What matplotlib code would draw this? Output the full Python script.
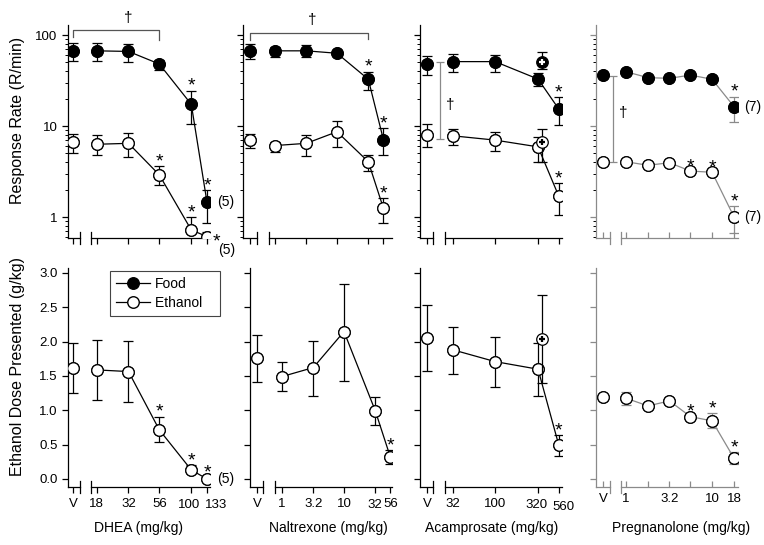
import numpy as np
import matplotlib as mpl

mpl.use('Agg')

import matplotlib.pyplot as plt
from matplotlib.ticker import LogLocator, NullLocator, NullFormatter, FixedLocator

plt.rcParams['font.family'] = ['Liberation Sans', 'DejaVu Sans']

# ---------------- данные ----------------
# первый элемент каждого списка - носитель (V)

# DHEA
dhea_labels = ['V', '18', '32', '56', '100', '133']
dhea_doses = [18, 32, 56, 100, 133]
dhea_food = [67, 67, 66, 48, 17.3, 1.45]
dhea_food_hi = [82, 82, 80, 53, 24.4, 1.98]
dhea_food_lo = [52, 52, 51, 41, 10.5, 0.85]
dhea_eth = [6.6, 6.3, 6.45, 2.9, 0.72, 0.61]
dhea_eth_hi = [8.2, 8.0, 8.3, 3.6, 1.0, 0.68]
dhea_eth_lo = [5.1, 4.8, 4.6, 2.25, 0.68, 0.58]
dhea_gkg = [1.61, 1.587, 1.563, 0.714, 0.131, 0.0]
dhea_gkg_hi = [1.976, 2.02, 2.01, 0.907, 0.2, 0.02]
dhea_gkg_lo = [1.257, 1.15, 1.117, 0.543, 0.09, 0.0]

# Naltrexone
nal_labels = ['V', '1', '3.2', '10', '32', '56']
nal_doses = [1, 3.2, 10, 32, 56]
nal_food = [67, 67, 67, 63, 32.6, 7.1]
nal_food_hi = [80, 74, 78, 67, 39.5, 9.4]
nal_food_lo = [55, 57, 57, 59, 24.9, 4.8]
nal_eth = [7.0, 6.1, 6.45, 8.65, 4.05, 1.25]
nal_eth_hi = [8.2, 6.7, 8.0, 11.4, 4.8, 1.6]
nal_eth_lo = [5.7, 5.2, 4.7, 5.9, 3.2, 0.85]
nal_gkg = [1.757, 1.49, 1.621, 2.145, 0.99, 0.316]
nal_gkg_hi = [2.097, 1.708, 2.014, 2.84, 1.199, 0.422]
nal_gkg_lo = [1.408, 1.286, 1.209, 1.432, 0.786, 0.218]

# Acamprosate
aca_labels = ['V', '32', '100', '320', '560']
aca_doses = [32, 100, 320, 560]
aca_food = [48, 51, 51, 32.8, 15.4]
aca_food_hi = [59, 62, 61, 38.5, 20.7]
aca_food_lo = [36, 39.5, 39.5, 27.5, 10.3]
aca_eth = [8.0, 7.8, 7.0, 5.9, 1.7]
aca_eth_hi = [10.4, 9.2, 8.65, 7.6, 2.34]
aca_eth_lo = [5.9, 6.2, 5.35, 4.05, 1.05]
aca_gkg = [2.058, 1.879, 1.708, 1.597, 0.495]
aca_gkg_hi = [2.534, 2.218, 2.072, 1.976, 0.641]
aca_gkg_lo = [1.577, 1.529, 1.335, 1.209, 0.335]
# отдельная точка "+" при 320 мг/кг
aca_plus_dose = 320
aca_plus_food = [51, 64.5, 42]      # значение, верх, низ
aca_plus_eth = [6.6, 9.2, 4.05]
aca_plus_gkg = [2.039, 2.68, 1.393]

# Pregnanolone
preg_labels = ['V', '1', '', '3.2', '', '10', '18']
preg_doses = [1, 1.8, 3.2, 5.6, 10, 18]
preg_food = [36.3, 39.5, 34, 33.4, 36.3, 32.6, 16.3]
preg_food_hi = [36.3, 39.5, 34, 33.4, 36.3, 32.6, 21]
preg_food_lo = [36.3, 39.5, 34, 33.4, 36.3, 32.6, 11.1]
preg_eth = [4.05, 4.05, 3.7, 3.95, 3.2, 3.1, 1.0]
preg_eth_hi = [4.05, 4.05, 3.7, 3.95, 3.2, 3.1, 1.32]
preg_eth_lo = [4.05, 4.05, 3.7, 3.95, 3.2, 3.1, 0.66]
preg_gkg = [1.19, 1.175, 1.063, 1.136, 0.907, 0.845, 0.301]
preg_gkg_hi = [1.19, 1.27, 1.11, 1.136, 0.907, 0.957, 0.39]
preg_gkg_lo = [1.19, 1.08, 1.02, 1.136, 0.907, 0.738, 0.22]

# значимые отличия (*) - индексы в списках
dhea_star_food, dhea_star_eth, dhea_star_gkg = [4, 5], [3, 4, 5], [3, 4, 5]
nal_star_food, nal_star_eth, nal_star_gkg = [4, 5], [5], [5]
aca_star_food, aca_star_eth, aca_star_gkg = [4], [4], [4]
preg_star_food, preg_star_eth, preg_star_gkg = [6], [4, 5, 6], [4, 5, 6]

# ---------------- оформление ----------------
W, H = 764, 545
fig = plt.figure(figsize=(W / 100, H / 100), dpi=100)

GRAY = '#8a8a8a'
MS = 8.3
TICK_FS = 9.5


def box(x0, x1, y0, y1):
    return [x0 / W, 1 - y1 / H, (x1 - x0) / W, (y1 - y0) / H]


def setup_x(ax, xlim, v_pos, doses, labels, breaks_px, width_px, height_px,
            color='k', show_labels=False, tick_dir='out', shifts=None):
    ax.set_xscale('log')
    ax.set_xlim(*xlim)
    xs = [v_pos] + list(doses)
    ax.xaxis.set_major_locator(FixedLocator(xs))
    ax.xaxis.set_minor_locator(NullLocator())
    ax.xaxis.set_minor_formatter(NullFormatter())
    shifts = shifts or {}
    shown = []
    for i, lab in enumerate(labels):
        if show_labels and i not in shifts:
            shown.append(lab)
        else:
            shown.append('')
    ax.set_xticklabels(shown)
    # подписи, сдвинутые относительно штрихов (как в оригинале)
    if show_labels:
        dec_per_px = np.log10(xlim[1] / xlim[0]) / width_px
        for i, (dx, dy) in shifts.items():
            lx = xs[i] * 10 ** (dx * dec_per_px)
            ly = -(11.5 + dy) / height_px
            ax.text(lx, ly, labels[i], transform=ax.get_xaxis_transform(),
                    ha='center', va='top', fontsize=TICK_FS, clip_on=False)
    ax.tick_params(axis='x', direction=tick_dir, length=4, width=0.9,
                   color=color, labelsize=TICK_FS, labelcolor='k', pad=4)
    ax.spines['bottom'].set_visible(False)
    b1 = breaks_px[0] / width_px
    b2 = breaks_px[1] / width_px
    d = 6 / height_px
    kw = dict(transform=ax.transAxes, color=color, lw=0.9, clip_on=False)
    ax.plot([0, b1], [0, 0], **kw)
    ax.plot([b2, 1], [0, 0], **kw)
    ax.plot([b1, b1], [-d, d], **kw)
    ax.plot([b2, b2], [-d, d], **kw)


def style_axes(ax, color='k'):
    ax.spines['top'].set_visible(False)
    ax.spines['right'].set_visible(False)
    ax.spines['left'].set_color(color)
    ax.spines['left'].set_linewidth(0.9)
    ax.tick_params(axis='y', direction='out', color=color, labelsize=TICK_FS)
    ax.patch.set_alpha(0)


def series(ax, v_pos, doses, vals, hi, lo, filled, line_color='k'):
    xs = [v_pos] + list(doses)
    yerr = np.array([np.array(vals) - np.array(lo), np.array(hi) - np.array(vals)])
    face = 'k' if filled else 'white'
    kw = dict(marker='o', ms=MS, mfc=face, mec='k', mew=0.9,
              ecolor=line_color, elinewidth=0.9, capsize=3.8, capthick=0.9)
    ax.errorbar(xs[:1], vals[:1], yerr=yerr[:, :1], ls='none', zorder=3, **kw)
    ax.errorbar(xs[1:], vals[1:], yerr=yerr[:, 1:], ls='-', color=line_color,
                lw=0.9, zorder=3, **kw)
    # маркер заново поверх линии
    ax.plot(xs, vals, ls='none', marker='o', ms=MS, mfc=face, mec='k',
            mew=0.9, zorder=4)


def star(ax, x, y, dx=0, dy=-3):
    ax.annotate('*', xy=(x, y), xytext=(dx, dy), textcoords='offset points',
                ha='center', va='bottom', fontsize=14, annotation_clip=False,
                zorder=6)


def plus_point(ax, x, vals, filled):
    v, h, l = vals
    face = 'k' if filled else 'white'
    ax.errorbar([x], [v], yerr=[[v - l], [h - v]], ls='none', marker='o',
                ms=MS, mfc=face, mec='k', mew=0.9, ecolor='k', elinewidth=0.9,
                capsize=3.8, capthick=0.9, zorder=5)
    ax.plot([x], [v], ls='none', marker='+', ms=5, mew=1.6,
            color='white' if filled else 'k', zorder=6)


# пиксельная раскладка панелей
TOP_Y = (25, 238)
BOT_Y = (268, 487)
top_x = [(68, 210), (243, 392), (420, 562), (596, 738)]
bot_x = [(68, 210), (250, 392), (420, 562), (596, 738)]

RATE_LIM = (0.588, 128.8)
GKG_LIM = (-0.117, 3.07)

panels = [
    dict(labels=dhea_labels, doses=dhea_doses, v=11.7,
         xlim_top=(10.68, 140.4), xlim_bot=(10.68, 140.4),
         br_top=(12, 23), br_bot=(12, 23), shifts={4: (-2, 0), 5: (9, 0)},
         food=(dhea_food, dhea_food_hi, dhea_food_lo, dhea_star_food),
         eth=(dhea_eth, dhea_eth_hi, dhea_eth_lo, dhea_star_eth),
         gkg=(dhea_gkg, dhea_gkg_hi, dhea_gkg_lo, dhea_star_gkg),
         xlabel='DHEA (mg/kg)', xl_pos=139, color='k'),
    dict(labels=nal_labels, doses=nal_doses, v=0.395,
         xlim_top=(0.305, 77.1), xlim_bot=(0.305, 59.4),
         br_top=(14, 26), br_bot=(13, 25), shifts={4: (-1, 0)},
         food=(nal_food, nal_food_hi, nal_food_lo, nal_star_food),
         eth=(nal_eth, nal_eth_hi, nal_eth_lo, nal_star_eth),
         gkg=(nal_gkg, nal_gkg_hi, nal_gkg_lo, nal_star_gkg),
         xlabel='Naltrexone (mg/kg)', xl_pos=328, color='k'),
    dict(labels=aca_labels, doses=aca_doses, v=15.8,
         xlim_top=(13.1, 612), xlim_bot=(13.1, 612),
         br_top=(13, 25), br_bot=(13, 25), shifts={3: (-2, 0), 4: (5, 2)},
         food=(aca_food, aca_food_hi, aca_food_lo, aca_star_food),
         eth=(aca_eth, aca_eth_hi, aca_eth_lo, aca_star_eth),
         gkg=(aca_gkg, aca_gkg_hi, aca_gkg_lo, aca_star_gkg),
         xlabel='Acamprosate (mg/kg)', xl_pos=492, color='k'),
    dict(labels=preg_labels, doses=preg_doses, v=0.54,
         xlim_top=(0.448, 20.0), xlim_bot=(0.448, 20.0),
         br_top=(14, 25), br_bot=(14, 25), shifts={},
         food=(preg_food, preg_food_hi, preg_food_lo, preg_star_food),
         eth=(preg_eth, preg_eth_hi, preg_eth_lo, preg_star_eth),
         gkg=(preg_gkg, preg_gkg_hi, preg_gkg_lo, preg_star_gkg),
         xlabel='Pregnanolone (mg/kg)', xl_pos=681, color=GRAY),
]

top_axes, bot_axes = [], []
for k, p in enumerate(panels):
    c = p['color']
    line_c = GRAY if k == 3 else 'k'
    tick_dir = 'in' if k == 3 else 'out'
    xs = [p['v']] + list(p['doses'])

    # ---- верхний ряд: скорость ответов ----
    x0, x1 = top_x[k]
    ax = fig.add_axes(box(x0, x1, *TOP_Y))
    style_axes(ax, c)
    ax.set_yscale('log')
    ax.set_ylim(*RATE_LIM)
    ax.yaxis.set_major_locator(FixedLocator([1, 10, 100]))
    ax.yaxis.set_minor_locator(LogLocator(base=10, subs=np.arange(2, 10)))
    ax.yaxis.set_minor_formatter(NullFormatter())
    ax.tick_params(axis='y', which='major', length=4, width=0.9)
    ax.tick_params(axis='y', which='minor', length=2.5, width=0.7)
    if k == 0:
        ax.set_yticklabels(['1', '10', '100'])
    else:
        ax.set_yticklabels(['', '', ''])
    setup_x(ax, p['xlim_top'], p['v'], p['doses'], p['labels'], p['br_top'],
            x1 - x0, TOP_Y[1] - TOP_Y[0], color=c, tick_dir=tick_dir)
    for key, filled in (('food', True), ('eth', False)):
        vals, hi, lo, st = p[key]
        series(ax, p['v'], p['doses'], vals, hi, lo, filled, line_c)
        for i in st:
            if k == 0 and key == 'eth' and i == len(xs) - 1:
                # звёздочка справа от точки у самой оси
                ax.annotate('*', xy=(xs[i], vals[i]), xytext=(7, -7),
                            textcoords='offset points', ha='center',
                            va='baseline', fontsize=14, annotation_clip=False)
            else:
                star(ax, xs[i], hi[i])
    top_axes.append(ax)

    # ---- нижний ряд: доза этанола ----
    x0, x1 = bot_x[k]
    axb = fig.add_axes(box(x0, x1, *BOT_Y))
    style_axes(axb, c)
    axb.set_ylim(*GKG_LIM)
    axb.yaxis.set_major_locator(FixedLocator(np.arange(0, 3.01, 0.5)))
    axb.tick_params(axis='y', length=4, width=0.9)
    if k == 0:
        axb.set_yticklabels(['%.1f' % t for t in np.arange(0, 3.01, 0.5)])
    else:
        axb.set_yticklabels([''] * 7)
    setup_x(axb, p['xlim_bot'], p['v'], p['doses'], p['labels'], p['br_bot'],
            x1 - x0, BOT_Y[1] - BOT_Y[0], color=c, show_labels=True,
            tick_dir=tick_dir, shifts=p['shifts'])
    vals, hi, lo, st = p['gkg']
    series(axb, p['v'], p['doses'], vals, hi, lo, False, line_c)
    for i in st:
        star(axb, xs[i], hi[i])
    bot_axes.append(axb)

    fig.text(p['xl_pos'] / W, 1 - 528 / H, p['xlabel'], ha='center',
             va='center', fontsize=10)

# ---- (n) ----
ax = top_axes[0]
ax.annotate('(5)', xy=(dhea_doses[-1], dhea_food[-1]), xytext=(7, 0),
            textcoords='offset points', ha='left', va='center', fontsize=10,
            annotation_clip=False)
ax.annotate('(5)', xy=(dhea_doses[-1], dhea_eth[-1]), xytext=(8, -5),
            textcoords='offset points', ha='left', va='top', fontsize=10,
            annotation_clip=False)
bot_axes[0].annotate('(5)', xy=(dhea_doses[-1], dhea_gkg[-1]), xytext=(7, 0),
                     textcoords='offset points', ha='left', va='center',
                     fontsize=10, annotation_clip=False)
for vals in (preg_food, preg_eth):
    top_axes[3].annotate('(7)', xy=(preg_doses[-1], vals[-1]), xytext=(7, 0),
                         textcoords='offset points', ha='left', va='center',
                         fontsize=10, annotation_clip=False)

# ---- точки "+" у акампросата ----
plus_x = aca_plus_dose * 1.11
plus_point(top_axes[2], plus_x, aca_plus_food, True)
plus_point(top_axes[2], plus_x, aca_plus_eth, False)
plus_point(bot_axes[2], plus_x, aca_plus_gkg, False)

# ---- скобки с † ----
BR = '#555555'
ax = top_axes[0]
ax.plot([11.7, 11.7, 56, 56], [95, 113.5, 113.5, 88], color=BR, lw=0.9,
        clip_on=False)
ax.text(32, 154, '\u2020', ha='center', va='center', fontsize=11)

ax = top_axes[1]
ax.plot([0.395, 0.395, 32, 32], [88, 106, 106, 90], color=BR, lw=0.9,
        clip_on=False)
ax.text(4.0, 146, '\u2020', ha='center', va='center', fontsize=11)

ax = top_axes[2]
ax.errorbar([22.5], [19], yerr=[[19 - 7.2], [50.5 - 19]], fmt='none',
            ecolor=GRAY, elinewidth=0.9, capsize=3, capthick=0.9)
ax.text(29.5, 17, '\u2020', ha='center', va='center', fontsize=11)

ax = top_axes[3]
ax.errorbar([0.7], [12], yerr=[[12 - 4.0], [35.4 - 12]], fmt='none',
            ecolor=GRAY, elinewidth=0.9, capsize=3, capthick=0.9)
ax.text(0.92, 13.9, '\u2020', ha='center', va='center', fontsize=11)

# ---- подписи осей ----
fig.text(18 / W, 1 - 120 / H, 'Response Rate (R/min)', rotation=90,
         ha='center', va='center', fontsize=11.5)
fig.text(18 / W, 1 - 366 / H, 'Ethanol Dose Presented (g/kg)', rotation=90,
         ha='center', va='center', fontsize=11.5)

# ---- легенда ----
axb = bot_axes[0]
h1, = axb.plot([], [], '-o', color='k', mfc='k', mec='k', ms=MS, lw=0.9)
h2, = axb.plot([], [], '-o', color='k', mfc='white', mec='k', ms=MS, lw=0.9)
leg = axb.legend([h1, h2], ['Food', 'Ethanol   '], loc='upper left',
                 bbox_to_anchor=((110 - 68) / 142, (487 - 271) / 219),
                 fontsize=10, frameon=True, fancybox=False, framealpha=1,
                 edgecolor='#444444', handlelength=2.4, borderpad=0.45,
                 labelspacing=0.35, handletextpad=0.4, borderaxespad=0)
leg.get_frame().set_linewidth(0.8)

fig.savefig('out.png', dpi=100)
